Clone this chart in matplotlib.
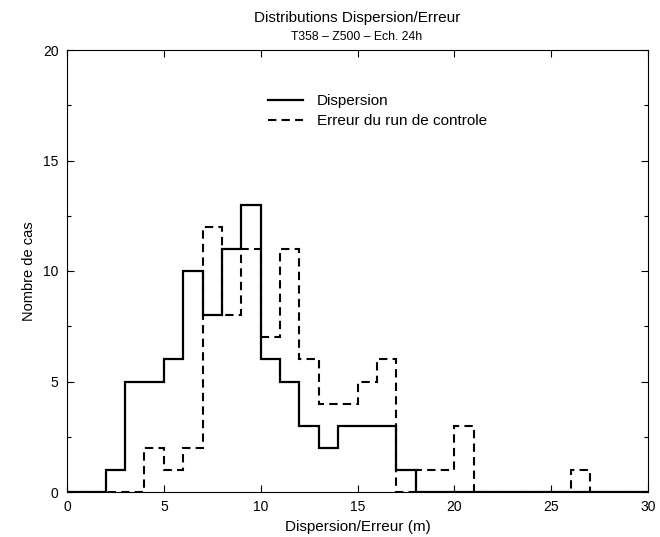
import matplotlib
matplotlib.use("Agg")
import matplotlib.pyplot as plt
import numpy as np
from matplotlib.ticker import MultipleLocator

plt.rcParams['font.family'] = ['Liberation Sans', 'DejaVu Sans']

edges = list(range(0, 31))
dispersion = [0, 0, 1, 5, 5, 6, 10, 8, 11, 13, 6, 5, 3, 2, 3, 3, 3, 1,
              0, 0, 0, 0, 0, 0, 0, 0, 0, 0, 0, 0]
erreur = [0, 0, 0, 0, 2, 1, 2, 12, 8, 11, 7, 11, 6, 4, 4, 5, 6, 0,
          1, 1, 3, 0, 0, 0, 0, 0, 1, 0, 0, 0]

fig = plt.figure(figsize=(6.6, 5.37), dpi=100)
ax = fig.add_axes([67/660, 1-492/537, (648-67)/660, (492-50)/537])

ax.stairs(dispersion, edges, color='black', linewidth=1.6, linestyle='-', label='Dispersion')
ax.stairs(erreur, edges, color='black', linewidth=1.5, linestyle=(0, (4, 2.5)),
          label='Erreur du run de controle')

ax.set_xlim(0, 30)
ax.set_ylim(0, 20)
ax.xaxis.set_major_locator(MultipleLocator(5))
ax.yaxis.set_major_locator(MultipleLocator(5))
ax.yaxis.set_minor_locator(MultipleLocator(2.5))
ax.tick_params(which='both', direction='in', top=True, right=True, labelsize=10, width=0.8)
ax.tick_params(which='major', length=5, pad=6)
ax.tick_params(which='minor', length=3)
ax.tick_params(axis='x', which='minor', bottom=False, top=False)
for s in ax.spines.values():
    s.set_linewidth(0.8)

ax.set_xlabel('Dispersion/Erreur (m)', fontsize=11, labelpad=4)
ax.set_ylabel('Nombre de cas', fontsize=10.5, labelpad=5)

fig.text(357/660, 1-18/537, 'Distributions Dispersion/Erreur', ha='center', va='center', fontsize=11)
fig.text(357/660, 1-37/537, 'T358 – Z500 – Ech. 24h', ha='center', va='center', fontsize=8.8)

leg = ax.legend(loc='upper left', bbox_to_anchor=((268-67)/581, 1-(94-50)/442), frameon=False,
                fontsize=11, handlelength=2.3, handletextpad=0.9, labelspacing=0.4,
                borderaxespad=0, borderpad=0)

fig.savefig('out.png', dpi=100)
